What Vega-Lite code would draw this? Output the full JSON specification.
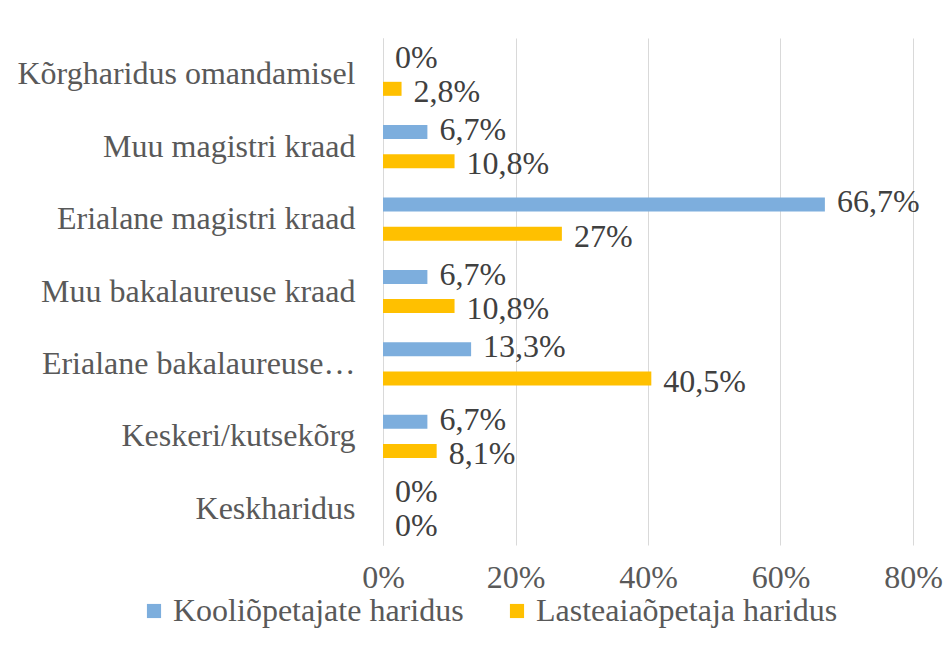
{
  "$schema": "https://vega.github.io/schema/vega-lite/v6.json",
  "width": 530,
  "height": 507,
  "autosize": "none",
  "padding": {"left": 383, "top": 38, "right": 39, "bottom": 100},
  "background": "white",
  "config": {
    "font": "Liberation Serif",
    "view": {"stroke": null},
    "locale": {"number": {"decimal": ",", "thousands": " ", "grouping": [3], "currency": ["", " €"]}}
  },
  "data": {
    "values": [
      {"kategooria": "Kõrgharidus omandamisel", "seeria": "Kooliõpetajate haridus", "osakaal": 0},
      {"kategooria": "Kõrgharidus omandamisel", "seeria": "Lasteaiaõpetaja haridus", "osakaal": 0.028},
      {"kategooria": "Muu magistri kraad", "seeria": "Kooliõpetajate haridus", "osakaal": 0.067},
      {"kategooria": "Muu magistri kraad", "seeria": "Lasteaiaõpetaja haridus", "osakaal": 0.108},
      {"kategooria": "Erialane magistri kraad", "seeria": "Kooliõpetajate haridus", "osakaal": 0.667},
      {"kategooria": "Erialane magistri kraad", "seeria": "Lasteaiaõpetaja haridus", "osakaal": 0.27},
      {"kategooria": "Muu bakalaureuse kraad", "seeria": "Kooliõpetajate haridus", "osakaal": 0.067},
      {"kategooria": "Muu bakalaureuse kraad", "seeria": "Lasteaiaõpetaja haridus", "osakaal": 0.108},
      {"kategooria": "Erialane bakalaureuse…", "seeria": "Kooliõpetajate haridus", "osakaal": 0.133},
      {"kategooria": "Erialane bakalaureuse…", "seeria": "Lasteaiaõpetaja haridus", "osakaal": 0.405},
      {"kategooria": "Keskeri/kutsekõrg", "seeria": "Kooliõpetajate haridus", "osakaal": 0.067},
      {"kategooria": "Keskeri/kutsekõrg", "seeria": "Lasteaiaõpetaja haridus", "osakaal": 0.081},
      {"kategooria": "Keskharidus", "seeria": "Kooliõpetajate haridus", "osakaal": 0},
      {"kategooria": "Keskharidus", "seeria": "Lasteaiaõpetaja haridus", "osakaal": 0}
    ]
  },
  "encoding": {
    "y": {
      "field": "kategooria",
      "type": "nominal",
      "sort": null,
      "title": null,
      "scale": {"paddingInner": 0, "paddingOuter": 0},
      "axis": {
        "ticks": false,
        "domain": true,
        "domainColor": "#D9D9D9",
        "domainWidth": 1,
        "labelFont": "Liberation Serif",
        "labelFontSize": 32,
        "labelColor": "#595959",
        "labelPadding": 28,
        "labelLimit": 400
      }
    },
    "yOffset": {
      "field": "seeria",
      "type": "nominal",
      "sort": ["Kooliõpetajate haridus", "Lasteaiaõpetaja haridus"],
      "scale": {"paddingInner": 0.52, "paddingOuter": 0.5}
    },
    "x": {
      "field": "osakaal",
      "type": "quantitative",
      "title": null,
      "scale": {"domain": [0, 0.8], "nice": false},
      "axis": {
        "values": [0, 0.2, 0.4, 0.6, 0.8],
        "format": ".0%",
        "domain": false,
        "ticks": false,
        "grid": true,
        "gridColor": "#D9D9D9",
        "gridWidth": 1,
        "labelFont": "Liberation Serif",
        "labelFontSize": 32,
        "labelColor": "#595959",
        "labelPadding": 17,
        "labelFlush": false
      }
    }
  },
  "layer": [
    {
      "mark": {"type": "bar"},
      "encoding": {
        "color": {
          "field": "seeria",
          "type": "nominal",
          "sort": ["Kooliõpetajate haridus", "Lasteaiaõpetaja haridus"],
          "scale": {"domain": ["Kooliõpetajate haridus", "Lasteaiaõpetaja haridus"], "range": ["#7DAEDD", "#FFC000"]},
          "legend": {
            "title": null,
            "orient": "none",
            "direction": "horizontal",
            "legendX": -245,
            "legendY": 557,
            "symbolType": "square",
            "symbolSize": 200,
            "symbolStrokeWidth": 0,
            "labelFont": "Liberation Serif",
            "labelFontSize": 32,
            "labelColor": "#595959",
            "labelOffset": 3,
            "columnPadding": 37,
            "labelLimit": 400
          }
        }
      }
    },
    {
      "transform": [{"filter": "datum.seeria === 'Kooliõpetajate haridus'"}],
      "mark": {"type": "text", "align": "left", "baseline": "middle", "dx": 12, "dy": -2, "font": "Liberation Serif", "fontSize": 32, "color": "#404040"},
      "encoding": {
        "text": {"field": "osakaal", "type": "quantitative", "format": ".1~%"}
      }
    },
    {
      "transform": [{"filter": "datum.seeria === 'Lasteaiaõpetaja haridus'"}],
      "mark": {"type": "text", "align": "left", "baseline": "middle", "dx": 12, "dy": 3, "font": "Liberation Serif", "fontSize": 32, "color": "#404040"},
      "encoding": {
        "text": {"field": "osakaal", "type": "quantitative", "format": ".1~%"}
      }
    }
  ]
}
